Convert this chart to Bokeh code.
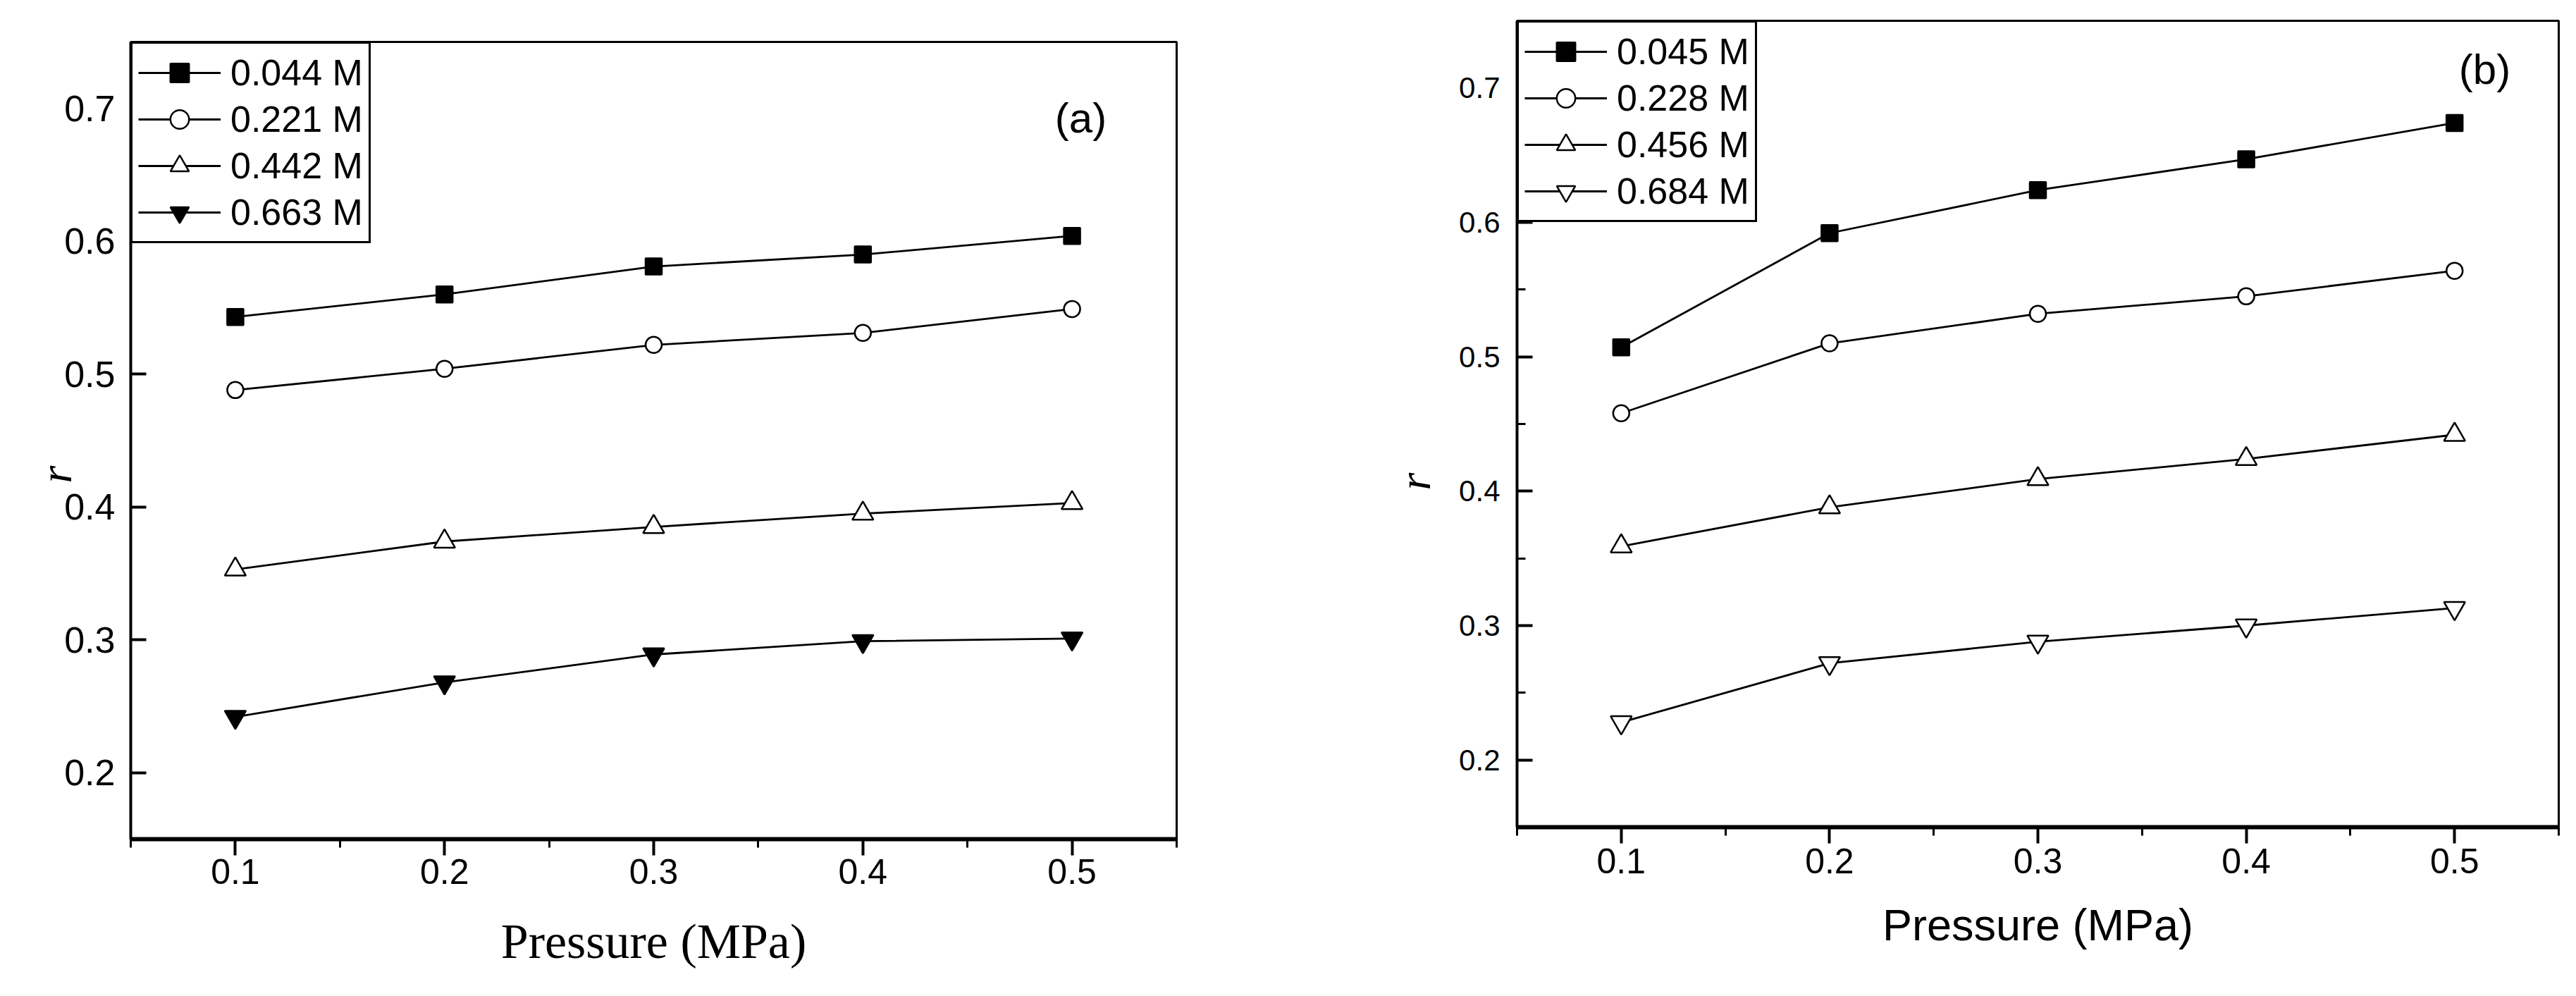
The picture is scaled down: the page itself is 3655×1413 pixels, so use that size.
from jinja2 import Template
from bokeh.plotting import figure
from bokeh.models import FixedTicker, Range1d, Label, Legend, LegendItem, Title
from bokeh.embed import file_html
from bokeh.resources import INLINE

# ---------------- data ----------------
pressure = [0.1, 0.2, 0.3, 0.4, 0.5]
x_ticks = [0.1, 0.2, 0.3, 0.4, 0.5]
x_minor = [0.05, 0.15, 0.25, 0.35, 0.45, 0.55]
y_ticks = [0.2, 0.3, 0.4, 0.5, 0.6, 0.7]
y_minor = [0.25, 0.35, 0.45, 0.55, 0.65]

a_labels = ["0.044 M", "0.221 M", "0.442 M", "0.663 M"]
a_s1 = [0.543, 0.560, 0.581, 0.590, 0.604]
a_s2 = [0.488, 0.504, 0.522, 0.531, 0.549]
a_s3 = [0.353, 0.374, 0.385, 0.395, 0.403]
a_s4 = [0.242, 0.268, 0.289, 0.299, 0.301]

b_labels = ["0.045 M", "0.228 M", "0.456 M", "0.684 M"]
b_s1 = [0.507, 0.592, 0.624, 0.647, 0.674]
b_s2 = [0.458, 0.510, 0.532, 0.545, 0.564]
b_s3 = [0.359, 0.388, 0.409, 0.424, 0.442]
b_s4 = [0.228, 0.272, 0.288, 0.300, 0.313]

x_title = "Pressure (MPa)"
y_title = "r"

X_RANGE = (0.05, 0.55)
Y_RANGE = (0.15, 0.75)

SANS = "Liberation Sans"
SERIF = "Liberation Serif"

MARKERS_A = [
    dict(marker="square", size=23, fill_color="black"),
    dict(marker="circle", size=23, fill_color="white"),
    dict(marker="triangle", size=30, fill_color="white"),
    dict(marker="inverted_triangle", size=30, fill_color="black"),
]
MARKERS_B = [
    dict(marker="square", size=23, fill_color="black"),
    dict(marker="circle", size=23, fill_color="white"),
    dict(marker="triangle", size=30, fill_color="white"),
    dict(marker="inverted_triangle", size=30, fill_color="white"),
]


def panel(series, labels, markers, geom, tag, tag_pos, st):
    width, height, bl, bt, fw, fh = geom
    p = figure(width=width, height=height, output_backend="svg",
               toolbar_location=None, x_range=Range1d(*X_RANGE),
               y_range=Range1d(*Y_RANGE))
    p.min_border_left = bl
    p.min_border_top = bt
    p.min_border_right = width - bl - fw
    p.min_border_bottom = height - bt - fh
    p.xgrid.visible = False
    p.ygrid.visible = False
    p.outline_line_color = "black"
    p.outline_line_alpha = 1.0
    p.outline_line_width = 3
    p.background_fill_color = "white"
    p.border_fill_color = "white"

    # x axis
    p.xaxis.ticker = FixedTicker(ticks=x_ticks, minor_ticks=x_minor)
    p.xaxis.axis_line_width = 6
    p.xaxis.major_tick_out = 23
    p.xaxis.major_tick_in = 0
    p.xaxis.minor_tick_out = 12
    p.xaxis.minor_tick_in = 0
    p.xaxis.major_tick_line_width = 4
    p.xaxis.minor_tick_line_width = 3
    p.xaxis.major_label_text_font = SANS
    p.xaxis.major_label_text_font_size = st["xtick"]
    p.xaxis.major_label_text_color = "black"
    p.xaxis.major_label_standoff = st["xstand"]
    p.xaxis.major_label_overrides = {t: f"{t:.1f}" for t in x_ticks}
    p.xaxis.axis_label = x_title
    p.xaxis.axis_label_text_font = st["xtitle_font"]
    p.xaxis.axis_label_text_font_size = st["xtitle_size"]
    p.xaxis.axis_label_text_font_style = "normal"
    p.xaxis.axis_label_text_color = "black"
    p.xaxis.axis_label_standoff = st["xtitle_stand"]

    # y axis
    p.yaxis.ticker = FixedTicker(ticks=y_ticks,
                                 minor_ticks=y_minor if st["yminor"] else [])
    p.yaxis.axis_line_width = 4
    p.yaxis.major_tick_out = 0
    p.yaxis.major_tick_in = 22
    p.yaxis.minor_tick_out = 0
    p.yaxis.minor_tick_in = 12
    p.yaxis.major_tick_line_width = 4
    p.yaxis.minor_tick_line_width = 3
    p.yaxis.major_label_text_font = SANS
    p.yaxis.major_label_text_font_size = st["ytick"]
    p.yaxis.major_label_text_color = "black"
    p.yaxis.major_label_standoff = st["ystand"]
    p.yaxis.major_label_overrides = {t: f"{t:.1f}" for t in y_ticks}

    # y title as a side title, so it can sit off-centre like the original
    p.add_layout(Title(text=y_title, text_font=SERIF, text_font_style="italic",
                       text_font_size="64px", text_color="black",
                       align="left", offset=st["ytitle_offset"],
                       standoff=st["ytitle_stand"]), "left")

    items = []
    for ys, lab, mk in zip(series, labels, markers):
        lr = p.line(pressure, ys, line_color="black", line_width=2.8)
        sr = p.scatter(pressure, ys, marker=mk["marker"], size=mk["size"],
                       fill_color=mk["fill_color"], line_color="black",
                       line_width=2.5)
        items.append(LegendItem(label=lab, renderers=[lr, sr]))

    leg = Legend(items=items, location="top_left", margin=0, padding=8,
                 spacing=0, glyph_width=117, glyph_height=66, label_height=66,
                 label_standoff=14, label_text_font=SANS,
                 label_text_font_size="52px", label_text_color="black",
                 border_line_color="black", border_line_alpha=1.0,
                 border_line_width=3, background_fill_color="white",
                 background_fill_alpha=1.0)
    p.add_layout(leg, "center")

    dx = (X_RANGE[1] - X_RANGE[0]) / fw
    dy = (Y_RANGE[1] - Y_RANGE[0]) / fh
    tx = X_RANGE[0] + tag_pos[0] * dx
    ty = Y_RANGE[1] - tag_pos[1] * dy
    p.add_layout(Label(x=tx, y=ty, text=tag, text_font=SANS,
                       text_font_size="60px", text_align="center",
                       text_baseline="middle", text_color="black"))
    return p


# geometry: width, height, border_left, border_top, frame_w, frame_h
pa = panel([a_s1, a_s2, a_s3, a_s4], a_labels, MARKERS_A,
           (1900, 1400, 185, 59, 1484, 1131), "(a)", (1348, 108),
           dict(xtick="50px", ytick="52px", xstand=5, ystand=22, yminor=False,
                xtitle_font=SERIF, xtitle_size="70px", xtitle_stand=40,
                ytitle_offset=505, ytitle_stand=-53))
pb = panel([b_s1, b_s2, b_s3, b_s4], b_labels, MARKERS_B,
           (1750, 1400, 252, 29, 1478, 1144), "(b)", (1373, 69),
           dict(xtick="50px", ytick="42px", xstand=7, ystand=24, yminor=True,
                xtitle_font=SANS, xtitle_size="63px", xtitle_stand=35,
                ytitle_offset=478, ytitle_stand=49))

TEMPLATE = Template("""{% from macros import embed %}
<!DOCTYPE html>
<html lang="en">
<head>
<meta charset="utf-8">
<title>{{ title if title else "Bokeh Plot" }}</title>
<style>
html, body { box-sizing: border-box; margin: 0; padding: 0; }
.pair { display: flex; flex-direction: row; align-items: flex-start; }
</style>
{{ bokeh_css if bokeh_css }}
{{ bokeh_js if bokeh_js }}
</head>
<body>
<div class="pair">
{% for doc in docs %}{% for root in doc.roots %}{{ embed(root) }}{% endfor %}{% endfor %}
</div>
{{ plot_script }}
</body>
</html>
""")

open("out.html", "w").write(file_html([pa, pb], INLINE, template=TEMPLATE))
